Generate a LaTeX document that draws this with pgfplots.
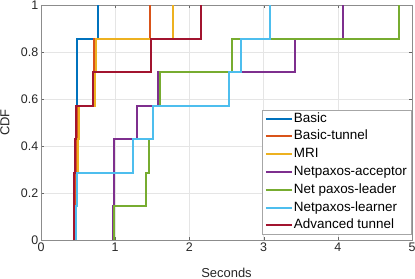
\documentclass[border=0pt]{standalone}
\usepackage{fontspec}
\setmainfont{Liberation Sans}
\usepackage{pgfplots}
\pgfplotsset{compat=1.18}
\definecolor{c1}{rgb}{0,0.447,0.741}
\definecolor{c2}{rgb}{0.850,0.325,0.098}
\definecolor{c3}{rgb}{0.929,0.694,0.125}
\definecolor{c4}{rgb}{0.494,0.184,0.556}
\definecolor{c5}{rgb}{0.466,0.674,0.188}
\definecolor{c6}{rgb}{0.301,0.745,0.933}
\definecolor{c7}{rgb}{0.635,0.078,0.184}
\definecolor{axgray}{rgb}{0.15,0.15,0.15}
\begin{document}
\begin{tikzpicture}
\begin{axis}[
  scale only axis,
  width=371bp, height=235bp,
  xmin=0, xmax=5, ymin=0, ymax=1,
  xtick={0,1,2,3,4,5},
  ytick={0,0.2,0.4,0.6,0.8,1},
  yticklabels={0,0.2,0.4,0.6,0.8,1},
  /pgf/number format/assume math mode=true,
  tick align=inside,
  major tick length=3bp,
  axis line style={draw=black!45},
  tick style={draw=black!60},
  grid=major,
  grid style={draw=black!10, line width=0.4pt},
  ticklabel style={font=\fontsize{12.5}{14}\selectfont, text=axgray},
  xticklabel style={inner sep=2.5pt},
  yticklabel style={inner sep=2.5pt},
  label style={font=\fontsize{13}{14}\selectfont, text=axgray},
  xlabel={Seconds},
  ylabel={CDF},
  xlabel style={at={(axis description cs:0.5,-0.1404)}, anchor=center},
  ylabel style={at={(axis description cs:-0.097,0.5)}, anchor=center},
  const plot,
  legend cell align=left,
  legend style={font=\fontsize{13.5}{14}\selectfont, draw=black!35, fill=white,
    inner xsep=3bp, inner ysep=2bp, row sep=4.8bp,
    nodes={inner xsep=1bp, inner ysep=0pt, text height=10bp, text depth=3bp},
    at={(0.9973,0.0255)}, anchor=south east},
  legend image code/.code={\draw[#1] (0bp,0bp) -- (26bp,0bp);},
]
\coordinate (ll) at (rel axis cs:0,0);
\coordinate (ur) at (rel axis cs:1,1);
\addplot[c1, line width=2pt] coordinates {(0.44,0) (0.44,0.142857) (0.45,0.285714) (0.46,0.428571) (0.47,0.571429) (0.48,0.714286) (0.49,0.857143) (0.77,1)};
\addlegendentry{Basic}
\addplot[c2, line width=2pt] coordinates {(0.45,0) (0.45,0.142857) (0.46,0.285714) (0.47,0.428571) (0.48,0.571429) (0.70,0.714286) (0.71,0.857143) (1.47,1)};
\addlegendentry{Basic-tunnel}
\addplot[c3, line width=2pt] coordinates {(0.47,0) (0.47,0.142857) (0.49,0.285714) (0.50,0.428571) (0.51,0.571429) (0.73,0.714286) (0.74,0.857143) (1.78,1)};
\addlegendentry{MRI}
\addplot[c4, line width=2pt] coordinates {(0.97,0) (0.97,0.142857) (0.98,0.285714) (0.98,0.428571) (1.29,0.571429) (1.58,0.714286) (3.42,0.857143) (4.07,1)};
\addlegendentry{Netpaxos-acceptor}
\addplot[c5, line width=2pt] coordinates {(0.98,0) (0.98,0.142857) (1.42,0.285714) (1.45,0.428571) (1.51,0.571429) (1.60,0.714286) (2.58,0.857143) (4.82,1)};
\addlegendentry{Net paxos-leader}
\addplot[c6, line width=2pt] coordinates {(0.47,0) (0.47,0.142857) (0.49,0.285714) (1.24,0.428571) (1.51,0.571429) (2.53,0.714286) (2.69,0.857143) (3.09,1)};
\addlegendentry{Netpaxos-learner}
\addplot[c7, line width=2pt] coordinates {(0.44,0) (0.44,0.142857) (0.45,0.285714) (0.46,0.428571) (0.47,0.571429) (0.70,0.714286) (1.48,0.857143) (2.15,1)};
\addlegendentry{Advanced tunnel}
\end{axis}
\pgfresetboundingbox
\path ([shift={(-41bp,-39bp)}]ll) rectangle ([shift={(3bp,5bp)}]ur);
\end{tikzpicture}
\end{document}
